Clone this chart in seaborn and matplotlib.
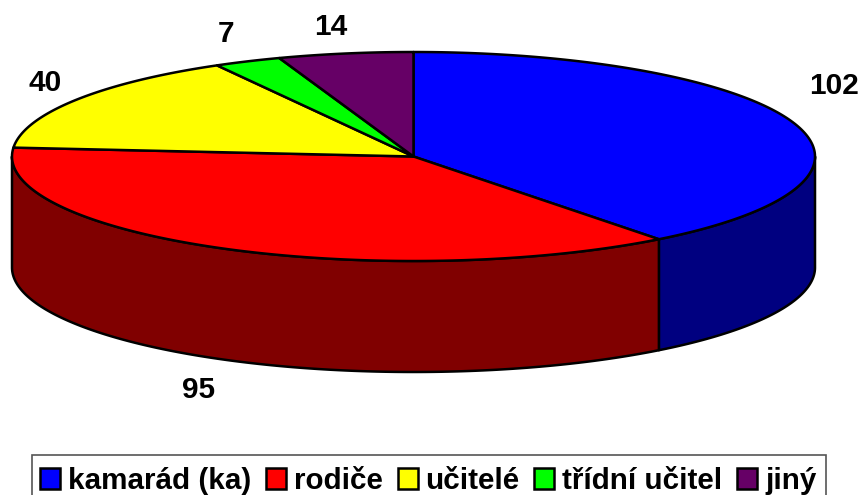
# 3D pie chart of who the pupils turn to
import numpy as np
import matplotlib
matplotlib.use('Agg')
import matplotlib.pyplot as plt
from matplotlib.patches import Patch, Polygon, Rectangle
import seaborn as sns

# Data
categories = ['kamarád (ka)', 'rodiče', 'učitelé', 'třídní učitel', 'jiný']
values = [102, 95, 40, 7, 14]
top_colors = ['#0000ff', '#ff0000', '#ffff00', '#00ff00', '#660066']
side_colors = ['#000080', '#800000', '#808000', '#008000', '#330033']

# Layout of the disc and the labels, in pixels
cx, cy = 413.5, 156.5
rx, ry = 401.5, 104.5
depth = 111
label_pos = [(834, 86), (199, 390), (45, 83), (226, 34), (331, 27)]

sns.set_theme(style='white')
plt.rcParams['font.family'] = ['Liberation Sans', 'DejaVu Sans']

fig = plt.figure(figsize=(8.61, 4.95), dpi=100)
ax = fig.add_axes([0, 0, 1, 1])
ax.set_xlim(0, 861)
ax.set_ylim(495, 0)
ax.axis('off')


def rim(a, b):
    # Points on the ellipse, angle in degrees clockwise from the top
    t = np.radians(np.linspace(a, b, 200))
    return cx + rx * np.sin(t), cy - ry * np.cos(t)


edges = np.concatenate([[0], np.cumsum(values)]) / sum(values) * 360

# The wall, only the front half of the disc can be seen
for i in range(len(values)):
    a = max(edges[i], 90)
    b = min(edges[i + 1], 270)
    if a >= b:
        continue
    x, y = rim(a, b)
    pts = np.vstack([np.column_stack([x, y]),
                     np.column_stack([x[::-1], y[::-1] + depth])])
    ax.add_patch(Polygon(pts, closed=True, facecolor=side_colors[i],
                         edgecolor='black', linewidth=1.8, joinstyle='round'))

# The top of the disc
for i in range(len(values)):
    x, y = rim(edges[i], edges[i + 1])
    pts = np.vstack([[cx, cy], np.column_stack([x, y])])
    ax.add_patch(Polygon(pts, closed=True, facecolor=top_colors[i],
                         edgecolor='black', linewidth=1.8, joinstyle='round'))

# Data labels
for v, (lx, ly) in zip(values, label_pos):
    ax.text(lx, ly, str(v), ha='center', va='center', fontsize=21.5,
            fontweight='bold', color='black')

# Legend box runs off the bottom of the picture, so it is drawn on its own
ax.add_patch(Rectangle((32, 455), 794, 60, facecolor='white',
                       edgecolor='#555555', linewidth=1.2))
handles = [Patch(facecolor=c, edgecolor='black', linewidth=1.8) for c in top_colors]
ax.legend(handles, categories, ncol=5, loc='upper left',
          bbox_to_anchor=(31.5, 458), bbox_transform=ax.transData,
          prop={'size': 21.3, 'weight': 'bold'}, labelcolor='black',
          frameon=False, borderpad=0.3, borderaxespad=0,
          handlelength=0.67, handleheight=0.67, handletextpad=0.27,
          columnspacing=0.5, labelspacing=0)

fig.savefig('out.png', dpi=100)
